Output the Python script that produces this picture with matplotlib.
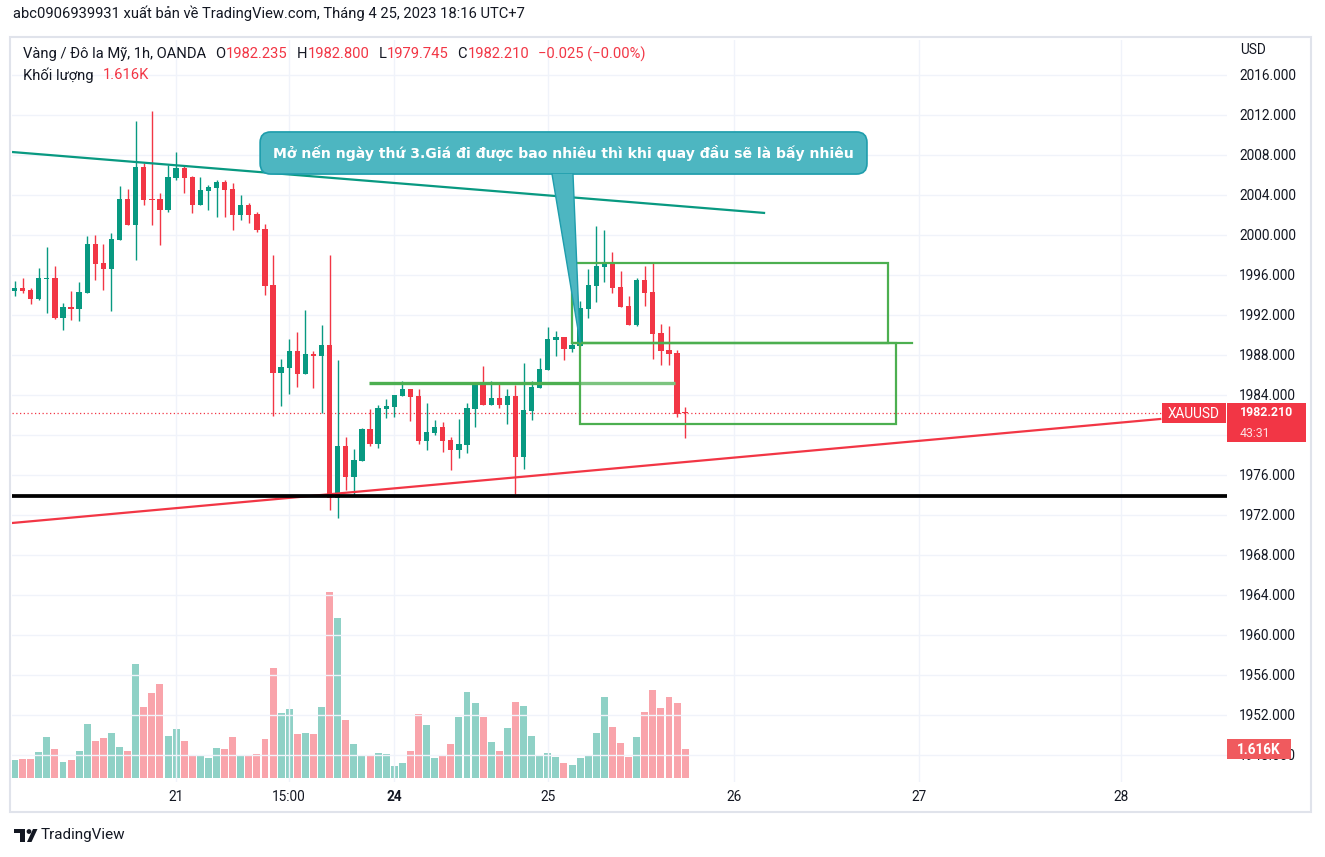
"""
XAUUSD 1h chart (TradingView snapshot) rebuilt with matplotlib.
Saves out.png at 1325x857.
"""
import matplotlib.pyplot as plt
import numpy as np
from matplotlib.patches import Rectangle, Polygon, Circle
from matplotlib.ticker import FormatStrFormatter

# ---------------------------------------------------------------------------
# Data (one entry per 1h bar)
# ---------------------------------------------------------------------------
OPEN = [1994.43, 1994.70, 1994.50, 1993.63, 1995.62, 1995.70, 1991.70, 1992.80, 1992.63, 1994.23,
        1999.10, 1997.20, 1996.63, 1999.53, 2003.60, 2001.03, 2006.80, 2003.60, 2003.60, 2002.53,
        2005.73, 2006.70, 2005.80, 2003.03, 2004.43, 2004.73, 2005.30, 2004.60, 2002.03, 2003.00,
        2002.10, 2000.60, 1995.00, 1986.23, 1986.73, 1988.43, 1986.13, 1988.13, 1987.93, 1989.00,
        1973.73, 1978.90, 1975.83, 1977.43, 1980.60, 1979.13, 1982.63, 1982.83, 1983.93, 1984.60,
        1983.90, 1979.43, 1980.23, 1980.80, 1979.53, 1978.53, 1979.03, 1982.63, 1985.10, 1983.03,
        1983.70, 1983.03, 1983.90, 1977.83, 1982.43, 1984.73, 1986.53, 1989.50, 1989.80, 1988.63,
        1988.93, 1992.63, 1994.93, 1996.83, 1997.20, 1994.80, 1992.90, 1991.03, 1995.50, 1994.30,
        1990.20, 1988.50, 1988.20, 1982.235]
HIGH = [1995.40, 1995.70, 1994.70, 1996.73, 1998.83, 1996.90, 1993.20, 1994.40, 1995.30, 1999.90,
        2000.00, 1999.10, 2000.20, 2004.90, 2004.60, 2011.40, 2007.23, 2012.40, 2004.20, 2007.00,
        2008.30, 2006.90, 2005.90, 2005.80, 2005.00, 2005.50, 2005.50, 2005.20, 2004.00, 2003.20,
        2002.30, 2001.13, 1998.00, 1987.63, 1989.60, 1990.33, 1992.50, 1988.40, 1991.00, 1998.00,
        1987.53, 1979.80, 1978.60, 1980.70, 1982.60, 1983.00, 1983.60, 1984.00, 1985.40, 1984.60,
        1984.60, 1983.20, 1981.50, 1981.30, 1979.83, 1981.60, 1983.20, 1985.30, 1986.90, 1985.40,
        1985.30, 1984.60, 1985.00, 1987.20, 1985.40, 1987.70, 1990.80, 1990.40, 1989.80, 1989.33,
        1993.40, 1996.60, 2000.90, 2000.50, 1998.30, 1996.40, 1993.90, 1995.70, 1996.90, 1997.30,
        1991.10, 1990.90, 1988.50, 1982.800]
LOW = [1993.93, 1994.23, 1993.13, 1993.53, 1992.23, 1991.63, 1990.53, 1991.53, 1991.43, 1994.20,
       1995.53, 1994.53, 1992.43, 1999.50, 2001.00, 1997.53, 2003.03, 2001.03, 1999.03, 2002.33,
       2005.53, 2004.23, 2002.23, 2003.00, 2002.53, 2001.83, 2001.83, 2000.53, 2001.53, 2001.23,
       2000.33, 1994.03, 1981.93, 1982.93, 1984.13, 1984.83, 1986.10, 1984.73, 1982.23, 1972.53,
       1971.73, 1974.53, 1974.03, 1977.40, 1978.93, 1978.73, 1981.73, 1981.83, 1983.90, 1981.43,
       1979.13, 1978.53, 1980.03, 1978.33, 1976.53, 1977.73, 1978.23, 1980.83, 1983.00, 1983.00,
       1982.73, 1981.13, 1974.13, 1976.63, 1981.53, 1984.70, 1986.50, 1987.90, 1987.53, 1988.33,
       1988.90, 1991.73, 1993.33, 1995.33, 1994.23, 1992.80, 1991.00, 1990.93, 1992.93, 1987.63,
       1987.03, 1987.03, 1981.83, 1979.745]
CLOSE = [1994.70, 1994.40, 1993.63, 1995.70, 1995.70, 1991.70, 1992.80, 1992.63, 1994.30, 1999.10,
         1997.13, 1996.63, 1999.60, 2003.60, 2001.03, 2006.80, 2003.53, 2003.50, 2002.53, 2005.80,
         2006.70, 2005.73, 2003.03, 2004.50, 2004.80, 2005.30, 2004.53, 2002.03, 2003.00, 2002.03,
         2000.53, 1994.93, 1986.23, 1986.83, 1988.43, 1986.13, 1988.13, 1987.93, 1989.00, 1973.73,
         1978.90, 1975.83, 1977.50, 1980.60, 1979.13, 1982.70, 1982.90, 1984.00, 1984.60, 1983.83,
         1979.43, 1980.30, 1980.80, 1979.43, 1978.53, 1979.10, 1982.70, 1985.10, 1983.03, 1983.70,
         1983.03, 1983.90, 1977.83, 1982.50, 1984.80, 1986.60, 1989.60, 1989.80, 1988.63, 1989.00,
         1992.70, 1995.00, 1996.90, 1997.20, 1994.73, 1992.83, 1991.03, 1995.50, 1994.23, 1990.13,
         1988.43, 1988.13, 1982.13, 1982.210]
# volume in thousands
VOLUME_K = [1.00, 1.06, 1.06, 1.45, 2.28, 1.62, 0.89, 1.00, 1.50, 3.01,
            2.06, 2.23, 2.51, 1.73, 1.50, 6.35, 3.95, 4.73, 5.24, 2.34,
            2.73, 2.06, 1.23, 1.23, 1.11, 1.67, 1.62, 2.28, 1.23, 1.28,
            1.34, 2.17, 6.13, 3.62, 3.84, 2.45, 2.51, 2.45, 3.95, 10.36,
            8.91, 3.23, 1.89, 1.23, 1.23, 1.39, 1.34, 0.67, 0.84, 1.50,
            3.56, 2.95, 1.11, 1.23, 1.89, 3.40, 4.79, 4.18, 3.40, 2.01,
            1.50, 2.79, 4.23, 4.01, 2.34, 1.23, 1.39, 1.17, 0.84, 0.72,
            1.11, 1.23, 2.51, 4.51, 2.84, 1.95, 1.17, 2.28, 3.68, 4.90,
            3.90, 4.51, 4.18, 1.616]

PRICE_TICKS = list(range(1948, 2017, 4))
TIME_TICK_BARS = [20, 34, 47, 66, 89, 112, 137]
TIME_TICK_LABELS = ["21", "15:00", "24", "25", "26", "27", "28"]
LAST_PRICE = 1982.21

# legend (OHLC of the last bar)
LEGEND_TITLE = "Vàng / Đô la Mỹ, 1h, OANDA"
LEGEND_KEYS = ["O", "H", "L", "C"]
LEGEND_VALUES = ["1982.235", "1982.800", "1979.745", "1982.210"]
LEGEND_CHANGE = "−0.025 (−0.00%)"

# drawings (bar index, price)
TEAL_TREND = [(-0.31, 2008.3), (92.9, 2002.2)]
RED_TREND = [(-0.31, 1971.2), (141.8, 1981.6)]
SUPPORT = 1973.9
GREEN_LEVEL = 1985.17
GREEN_LEVEL_BARS = (43.9, 69.9, 81.7)
BOX_UPPER = (69.0, 108.1, 1989.2, 1997.2)
BOX_LOWER = (70.0, 109.1, 1981.1, 1989.2)
MID_LINE_END = 111.1
NOTE = "Mở nến ngày thứ 3.Giá đi được bao nhiêu thì khi quay đầu sẽ là bấy nhiêu"
NOTE_POS = (67.95, 2008.2)
NOTE_TAIL = [(66.52, 2006.1), (69.12, 2006.1), (69.99, 1989.3)]

GREEN = "#089981"
RED = "#f23645"
TEXT = "#131722"
GRID = "#f0f3fa"
FRAME = "#e0e3eb"

W, H = 1325, 857


def px_axes(left, top, right, bottom):
    return [left / W, (H - bottom) / H, (right - left) / W, (bottom - top) / H]


def draw_candles(ax):
    o, h, l, c = (np.array(v) for v in (OPEN, HIGH, LOW, CLOSE))
    idx = np.arange(len(o))
    colors = np.where(c >= o, GREEN, RED)
    ax.vlines(idx, l, h, colors=colors, lw=1.0, zorder=3)
    body = np.maximum(np.abs(c - o), 0.14)
    bottom = (o + c) / 2 - body / 2
    ax.bar(idx, body, bottom=bottom, width=0.66, color=colors, linewidth=0, zorder=4)


def draw_volume(ax_vol):
    o, c = np.array(OPEN), np.array(CLOSE)
    idx = np.arange(len(o))
    colors = np.where(c >= o, GREEN, RED)
    ax_vol.bar(idx, VOLUME_K, width=0.86, color=colors, alpha=0.45, linewidth=0)


def draw_tools(ax):
    (x0, y0), (x1, y1) = TEAL_TREND
    ax.plot([x0, x1], [y0, y1], color=GREEN, lw=1.6, zorder=5, solid_capstyle="butt")
    (x0, y0), (x1, y1) = RED_TREND
    ax.plot([x0, x1], [y0, y1], color=RED, lw=1.6, zorder=5)
    ax.axhline(SUPPORT, color="black", lw=2.7, zorder=5)
    ax.axhline(LAST_PRICE, color=RED, lw=0.9, ls=(0, (1, 2)), zorder=2)

    a, b, e = GREEN_LEVEL_BARS
    ax.plot([a, b], [GREEN_LEVEL] * 2, color="#4caf50", lw=2.4, zorder=5, solid_capstyle="butt")
    ax.plot([b, e], [GREEN_LEVEL] * 2, color="#7cc47f", lw=2.4, zorder=5, solid_capstyle="butt")

    for x0, x1, y0, y1 in (BOX_UPPER, BOX_LOWER):
        ax.add_patch(Rectangle((x0, y0), x1 - x0, y1 - y0, fill=False,
                               ec="#4caf50", lw=1.6, zorder=5))
    ax.plot([BOX_UPPER[0], MID_LINE_END], [BOX_UPPER[2]] * 2, color="#4caf50", lw=1.6, zorder=5)

    # callout with tail
    ax.text(*NOTE_POS, NOTE, ha="center", va="center", color="white",
            fontsize=10.1, fontweight="bold", family=["DejaVu Sans"], zorder=8,
            bbox=dict(boxstyle="round,pad=0.93,rounding_size=0.75",
                      fc="#4db6c1", ec="#1e9dac", lw=1.2))
    ax.add_patch(Polygon(NOTE_TAIL, closed=True, fc="#4db6c1", ec="none", zorder=9))
    for p in (NOTE_TAIL[0], NOTE_TAIL[1]):
        ax.plot([p[0], NOTE_TAIL[2][0]], [p[1], NOTE_TAIL[2][1]],
                color="#1e9dac", lw=1.0, zorder=9)


def put_after(ov, renderer, prev, s, color, gap, **kw):
    """Place text s right after the text artist prev (pixel coords on ov)."""
    x = ov.transData.inverted().transform(prev.get_window_extent(renderer))[1][0] + gap
    return ov.text(x, prev.get_position()[1], s, color=color, va="center", **kw)


def draw_chrome(fig):
    ov = fig.add_axes([0, 0, 1, 1], zorder=10)
    ov.set_xlim(0, W)
    ov.set_ylim(H, 0)
    ov.axis("off")
    renderer = fig.canvas.get_renderer()

    ov.add_patch(Rectangle((10, 37), 1301, 775, fill=False, ec=FRAME, lw=1.5))

    ov.text(13, 13, "abc0906939931 xuất bản về TradingView.com, Tháng 4 25, 2023 18:16 UTC+7",
            fontsize=10.6, color=TEXT, va="center")

    # legend line: title, then O/H/L/C groups, then change
    fs = 10.6
    prev = ov.text(23, 54, LEGEND_TITLE, fontsize=fs, color=TEXT, va="center")
    for key, val in zip(LEGEND_KEYS, LEGEND_VALUES):
        prev = put_after(ov, renderer, prev, key, TEXT, 9, fontsize=fs)
        prev = put_after(ov, renderer, prev, val, RED, 0.5, fontsize=fs)
    put_after(ov, renderer, prev, LEGEND_CHANGE, RED, 9, fontsize=fs)

    prev = ov.text(23, 75, "Khối lượng", fontsize=fs, color=TEXT, va="center")
    put_after(ov, renderer, prev, "1.616K", RED, 9, fontsize=fs)

    ov.text(1240, 50, "USD", fontsize=9.8, color=TEXT, va="center")

    # price tags on the right
    ov.add_patch(Rectangle((1162, 403), 64, 20, fc=RED, ec="none"))
    ov.text(1194, 413.5, "XAUUSD", fontsize=9.8, color="white", ha="center", va="center")
    ov.add_patch(Rectangle((1227, 403), 79, 39, fc=RED, ec="none"))
    ov.text(1240, 412, "1982.210", fontsize=8.9, color="white", va="center", fontweight="bold")
    ov.text(1240, 433.5, "43:31", fontsize=8.9, color="white", alpha=0.85, va="center")
    ov.add_patch(Rectangle((1227, 739), 64, 20, fc="#f05a5e", ec="none"))
    ov.text(1259, 749.5, "1.616K", fontsize=9.8, color="white", ha="center", va="center",
            fontweight="bold")

    # TradingView logo
    ov.add_patch(Rectangle((14, 829), 11, 4, fc=TEXT, ec="none"))
    ov.add_patch(Rectangle((20, 829), 5, 13, fc=TEXT, ec="none"))
    ov.add_patch(Circle((29, 831.5), 2.4, fc=TEXT, ec="none"))
    ov.add_patch(Polygon([(27, 842), (31.5, 842), (37.5, 829), (33, 829)], fc=TEXT, ec="none"))
    ov.text(41, 835.5, "TradingView", fontsize=11, color=TEXT, va="center")


def main():
    plt.rcParams["font.family"] = ["Roboto", "DejaVu Sans"]
    fig = plt.figure(figsize=(W / 100, H / 100), dpi=100)
    fig.patch.set_facecolor("white")

    ax = fig.add_axes(px_axes(12, 40, 1227, 782))
    ax_vol = ax.twinx()
    ax.set_zorder(1)
    ax_vol.set_zorder(0)
    ax.patch.set_visible(False)

    # pixel scale: 8.08 px per bar, 10 px per dollar, 17.93 px per 1K volume
    ax.set_xlim(-0.31, 150.06)
    ax.set_ylim(1945.3, 2019.5)
    ax_vol.set_ylim(-0.223, 41.16)

    draw_volume(ax_vol)
    draw_candles(ax)
    draw_tools(ax)

    for a in (ax, ax_vol):
        for sp in a.spines.values():
            sp.set_visible(False)
    ax_vol.set_yticks([])
    ax_vol.tick_params(length=0)

    ax.yaxis.tick_right()
    ax.set_yticks(PRICE_TICKS)
    ax.yaxis.set_major_formatter(FormatStrFormatter("%.3f"))
    ax.set_xticks(TIME_TICK_BARS)
    ax.set_xticklabels(TIME_TICK_LABELS)
    for lbl in ax.get_xticklabels():
        if lbl.get_text() == "24":
            lbl.set_fontweight("bold")
    ax.tick_params(axis="y", length=0, pad=8.6, labelsize=9.8, labelcolor=TEXT)
    ax.tick_params(axis="x", length=0, pad=5.5, labelsize=9.8, labelcolor=TEXT)
    ax.grid(True, color=GRID, lw=1.0)
    ax.set_axisbelow(True)

    draw_chrome(fig)
    fig.savefig("out.png", dpi=100)


if __name__ == "__main__":
    main()
